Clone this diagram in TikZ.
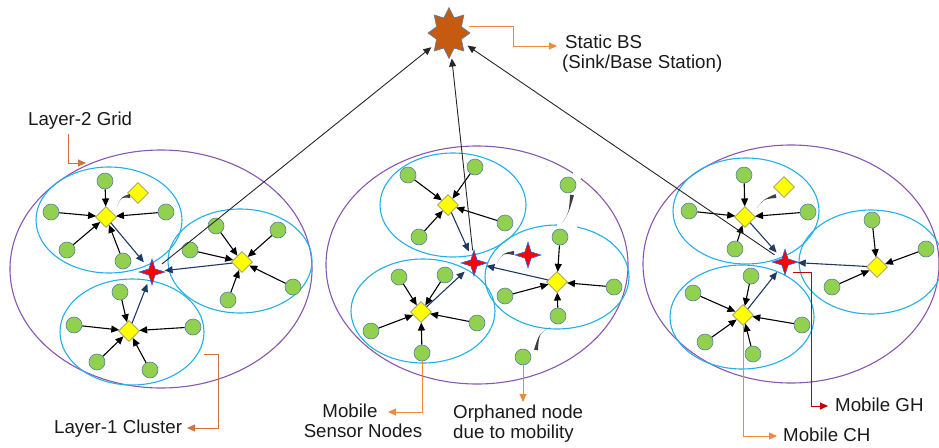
\documentclass[tikz,border=0pt]{standalone}
\usepackage{fontspec}
\setmainfont{Liberation Sans}
\usetikzlibrary{shapes.geometric,arrows.meta,calc}
\definecolor{gridpurple}{HTML}{8A56B0}
\definecolor{clcyan}{HTML}{22B0E6}
\definecolor{sngreen}{HTML}{92D050}
\definecolor{snborder}{HTML}{5A7FA6}
\definecolor{chyellow}{HTML}{FFFF00}
\definecolor{chborder}{HTML}{9A9A6A}
\definecolor{navyarr}{HTML}{1F3864}
\definecolor{bsfill}{HTML}{C55A11}
\definecolor{leadorange}{HTML}{F0883E}
\definecolor{leadbrown}{HTML}{D2733A}
\definecolor{leadred}{HTML}{C00000}
\definecolor{tapergray}{HTML}{404040}
\definecolor{txt}{HTML}{1A1A1A}
\newcommand\redstar[1]{%
 \filldraw[fill=red, draw=blue!55!cyan, line width=0.5pt]
  ($(#1)+(0:13)$) -- ($(#1)+(45:4.4)$) -- ($(#1)+(90:13)$) -- ($(#1)+(135:4.4)$) --
  ($(#1)+(180:13)$) -- ($(#1)+(225:4.4)$) -- ($(#1)+(270:13)$) -- ($(#1)+(315:4.4)$) -- cycle;}
\newcommand\bsstar[1]{%
 \filldraw[fill=bsfill, draw=snborder, line width=0.6pt]
  ($(#1)+(90:21 and 25.5)$)
  \foreach \k in {0,...,7}{ -- ($(#1)+({112.5+45*\k}:13.5 and 16.3)$) -- ($(#1)+({135+45*\k}:21 and 25.5)$)} -- cycle;}
\newcommand\taperstroke[3]{%
 \fill[tapergray] ($(#1)!2pt!90:(#2)$) .. controls (#2) .. (#3) .. controls (#2) .. ($(#1)!2pt!-90:(#2)$) -- cycle;}
\begin{document}
\begin{tikzpicture}[x=1pt,y=-1pt,
 sn/.style={circle,fill=sngreen,draw=snborder,line width=0.6pt,minimum size=16pt,inner sep=0pt},
 chnode/.style={diamond,fill=chyellow,draw=chborder,line width=0.6pt,minimum size=21pt,inner sep=0pt},
 ghnode/.style={circle,minimum size=25pt,inner sep=0pt},
 bsnode/.style={ellipse,minimum width=42pt,minimum height=51pt,inner sep=0pt},
 gridell/.style={draw=gridpurple,line width=1.1pt},
 clus/.style={draw=clcyan,line width=1.1pt},
 toch/.style={-{Triangle[length=8pt,width=7pt]},line width=1.1pt,black},
 togh/.style={-{Triangle[length=8pt,width=7pt]},line width=1.1pt,navyarr},
 tobs/.style={-{Triangle[length=8pt,width=7pt]},line width=0.9pt,black!85},
 lead/.style={-{Triangle[length=8pt,width=7pt]},line width=1pt,leadorange},
 lbl/.style={font=\fontsize{18.7}{22}\selectfont,inner sep=0pt,text=txt},
]
\useasboundingbox (0,0) rectangle (939,447);
% grids (layer 2)
\draw[gridell] (161,269) ellipse [x radius=151pt, y radius=119pt];
\draw[gridell] (477,265) ellipse [x radius=151pt, y radius=119pt];
\draw[gridell] (791,264) ellipse [x radius=148pt, y radius=119pt];
% clusters (layer 1)
\draw[clus] (109,220) ellipse [x radius=73pt, y radius=53pt];
\draw[clus] (240,261) ellipse [x radius=72pt, y radius=52pt];
\draw[clus] (132,332) ellipse [x radius=72pt, y radius=53pt];
\draw[clus] (453,205) ellipse [x radius=73pt, y radius=52pt];
\draw[clus] (423,311) ellipse [x radius=72pt, y radius=52pt];
\draw[clus] (557,277) ellipse [x radius=72pt, y radius=52pt];
\draw[clus] (746,211) ellipse [x radius=73pt, y radius=53pt];
\draw[clus] (871,262) ellipse [x radius=72pt, y radius=52pt];
\draw[clus] (742,317) ellipse [x radius=72pt, y radius=52pt];
% gaps left by the orphaned node
\fill[white] (557,219) rectangle (577,229);
\fill[white] (573,171) rectangle (581,179);

% ---------- grid 1 ----------
\node[chnode] (chA) at (106,217) {};
\node[sn] (a1) at (105,181) {};
\node[sn] (a2) at (51,212) {};
\node[sn] (a3) at (166,212) {};
\node[sn] (a4) at (67,250) {};
\node[sn] (a5) at (123,261) {};
\node[chnode] (orpA) at (138,193) {};
\node[chnode] (chB) at (242,262) {};
\node[sn] (b1) at (216,226) {};
\node[sn] (b2) at (278,230) {};
\node[sn] (b3) at (190,250) {};
\node[sn] (b4) at (293,287) {};
\node[sn] (b5) at (228,300) {};
\node[chnode] (chC) at (129,331) {};
\node[sn] (c1) at (120,292) {};
\node[sn] (c2) at (74,325) {};
\node[sn] (c3) at (193,327) {};
\node[sn] (c4) at (97,362) {};
\node[sn] (c5) at (150,370) {};
\node[ghnode] (gh1) at (152,272) {};
% ---------- grid 2 ----------
\node[chnode] (chD) at (448,205) {};
\node[sn] (d1) at (408,175) {};
\node[sn] (d2) at (475,167) {};
\node[sn] (d3) at (505,223) {};
\node[sn] (d4) at (419,237) {};
\node[chnode] (chE) at (421,312) {};
\node[sn] (e1) at (399,277) {};
\node[sn] (e2) at (445,275) {};
\node[sn] (e3) at (371,331) {};
\node[sn] (e4) at (477,323) {};
\node[sn] (e5) at (422,353) {};
\node[chnode] (chF) at (557,282) {};
\node[sn] (f1) at (560,237) {};
\node[sn] (f2) at (505,296) {};
\node[sn] (f3) at (614,287) {};
\node[sn] (f4) at (558,316) {};
\node[sn] (o1) at (568,185) {};
\node[sn] (o2) at (523,357) {};
\node[ghnode] (gh2) at (474,263) {};
\node[ghnode] (ghost) at (528,255) {};
% ---------- grid 3 ----------
\node[chnode] (chH) at (745,217) {};
\node[sn] (h1) at (744,175) {};
\node[sn] (h2) at (689,211) {};
\node[sn] (h3) at (808,212) {};
\node[sn] (h4) at (735,249) {};
\node[chnode] (orpH) at (784,187) {};
\node[chnode] (chI) at (877,267) {};
\node[sn] (i1) at (872,220) {};
\node[sn] (i2) at (926,249) {};
\node[sn] (i3) at (832,287) {};
\node[chnode] (chJ) at (743,315) {};
\node[sn] (j1) at (751,276) {};
\node[sn] (j2) at (693,293) {};
\node[sn] (j3) at (802,325) {};
\node[sn] (j4) at (705,342) {};
\node[sn] (j5) at (753,354) {};
\node[ghnode] (gh3) at (785,262) {};
% base station
\node[bsnode] (bs) at (449,33) {};

% member -> CH
\foreach \n in {a1,a2,a3,a4,a5} \draw[toch] (\n) -- (chA);
\foreach \n in {b1,b2,b3,b4,b5} \draw[toch] (\n) -- (chB);
\foreach \n in {c1,c2,c3,c4,c5} \draw[toch] (\n) -- (chC);
\foreach \n in {d1,d2,d3,d4} \draw[toch] (\n) -- (chD);
\foreach \n in {e1,e2,e3,e4,e5} \draw[toch] (\n) -- (chE);
\foreach \n in {f1,f2,f3,f4} \draw[toch] (\n) -- (chF);
\foreach \n in {h1,h2,h3,h4} \draw[toch] (\n) -- (chH);
\foreach \n in {i1,i2,i3} \draw[toch] (\n) -- (chI);
\foreach \n in {j1,j2,j3,j4,j5} \draw[toch] (\n) -- (chJ);
% CH -> GH
\foreach \n in {chA,chB,chC} \draw[togh] (\n) -- (gh1);
\foreach \n in {chD,chE,chF} \draw[togh] (\n) -- (gh2);
\foreach \n in {chH,chI,chJ} \draw[togh] (\n) -- (gh3);
% stars
\redstar{gh1}
\redstar{gh2}
\redstar{ghost}
\redstar{gh3}
\bsstar{bs}
% mobility strokes
\taperstroke{130,196}{121,197}{117,207}
\taperstroke{572,195}{569,212}{563,222}
\taperstroke{536,350}{539,334}{550,327}
\taperstroke{514,253}{503,253}{497,263}
\taperstroke{776,196}{764,199}{757,208}
% GH -> BS
\draw[tobs] (gh1) -- (bs);
\draw[tobs] (gh2) -- (bs);
\draw[tobs] (gh3) -- (bs);

% labels
\node[lbl,anchor=base west] (lblbs1) at (565,48) {Static BS};
\node[lbl,anchor=base west] (lblbs2) at (562,68) {(Sink/Base Station)};
\node[lbl,anchor=base west] (lblg) at (28,125) {Layer-2 Grid};
\node[lbl,anchor=base west] (lblc) at (54,433) {Layer-1 Cluster};
\node[lbl,anchor=base] (lblm1) at (350,417) {Mobile};
\node[lbl,anchor=base] (lblm2) at (363,437) {Sensor Nodes};
\node[lbl,anchor=base west] (lblo1) at (453,418) {Orphaned node};
\node[lbl,anchor=base west] (lblo2) at (453,438) {due to mobility};
\node[lbl,anchor=base west] (lblgh) at (835,411) {Mobile GH};
\node[lbl,anchor=base west] (lblch) at (783,441) {Mobile CH};

% leader lines
\coordinate (bsA) at (469,26);
\coordinate (bsB) at (557,46);
\draw[lead] (bsA) -- ++(44,0) |- (bsB);
\coordinate (l2A) at (68,134);
\coordinate (l2B) at (86,163);
\draw[lead,leadbrown] (l2A) |- (l2B);
\coordinate (l1A) at (204,354);
\coordinate (l1B) at (187,428);
\draw[lead,leadbrown] (l1A) -- ++(14,0) |- (l1B);
\coordinate (msnB) at (388,412);
\draw[lead] (e5.south) |- (msnB);
\coordinate (orpB) at (523,402);
\draw[lead] (o2) -- (orpB);
\coordinate (mchB) at (777,436);
\draw[lead] (chJ.south) |- (mchB);
\coordinate (mghA) at (793,272);
\coordinate (mghB) at (828,406);
\draw[lead,leadred] (mghA) -- ++(18,0) |- (mghB);
\end{tikzpicture}
\end{document}
